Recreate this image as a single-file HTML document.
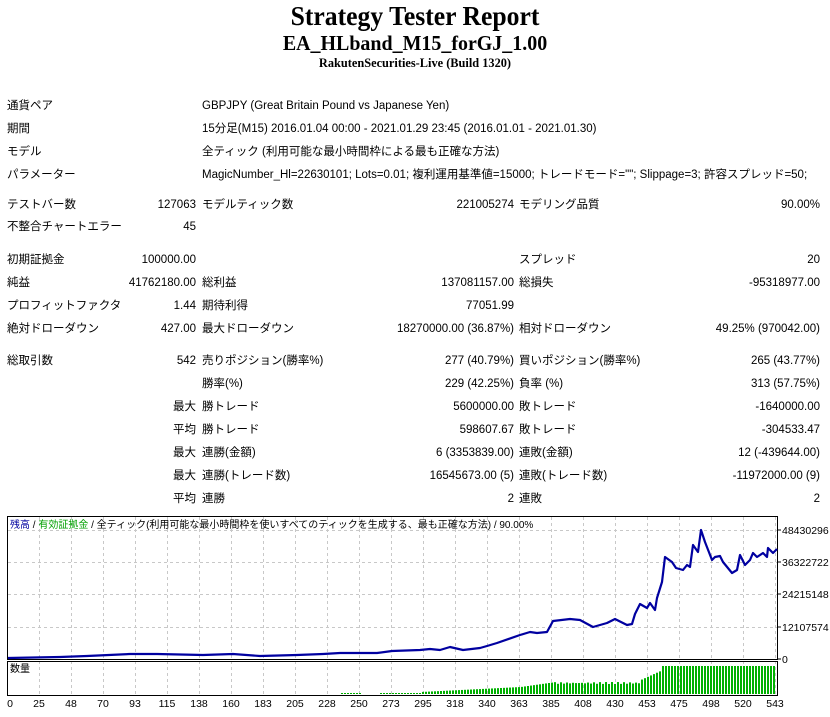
<!DOCTYPE html>
<html><head><meta charset="utf-8">
<style>
html,body{margin:0;padding:0;background:#fff;width:830px;height:717px;overflow:hidden;position:relative}
.t{position:absolute;font-family:"Liberation Serif",serif;font-weight:bold;left:0;width:830px;text-align:center;color:#000;transform:scaleX(0.95)}
.l,.r{position:absolute;font-family:"Liberation Sans","Noto Sans CJK JP",sans-serif;font-size:11.5px;line-height:14px;white-space:nowrap;color:#000}
.r{text-align:right}
</style></head><body>
<div class="t" style="top:1px;font-size:27px;line-height:30px">Strategy Tester Report</div>
<div class="t" style="top:31px;font-size:21px;line-height:24px">EA_HLband_M15_forGJ_1.00</div>
<div class="t" style="top:55px;font-size:13px;line-height:15px">RakutenSecurities-Live (Build 1320)</div>
<div id="tbl"></div>
<svg style="position:absolute;left:0;top:0" width="830" height="717" id="ch">
<g stroke="#c8c8c8" stroke-dasharray="3,3" stroke-width="1" id="grid"></g>
<rect x="7.5" y="516.5" width="770" height="143" fill="none" stroke="#000"/>
<rect x="7.5" y="661.5" width="770" height="34" fill="none" stroke="#000"/>
<g id="bars" fill="#00b000"></g>
<polyline fill="none" stroke="#0000a0" stroke-width="2.2" stroke-linejoin="round" points="8,658 60,657 87,656 130,654 157,654 203,655 233,654 260,656 297,655 323,654 340,653 377,653 392,651 420,650 430,649 440,650 450,647 463,650 480,648 487,646 497,643 520,635 530,632 537,633 547,632 553,621 570,619 580,620 593,627 607,623 615,619 627,625 632,624 635,614 640,604 647,608 650,603 655,610 657,598 662,582 665,557 672,562 676,568 683,570 687,565 690,567 693,545 698,552 701,530 705,542 712,560 715,557 720,556 723,562 732,573 737,570 740,555 745,565 750,560 753,553 757,557 763,553 767,557 768,548 773,553 777,549"/>
<g font-family="Liberation Sans,sans-serif" font-size="10.5" fill="#000" id="ax"></g>
<text x="10" y="528" font-family="Liberation Sans,'Noto Sans CJK JP',sans-serif" font-size="10"><tspan fill="#0000a0">残高</tspan> / <tspan fill="#00a000">有効証拠金</tspan> / 全ティック(利用可能な最小時間枠を使いすべてのティックを生成する、最も正確な方法) / 90.00%</text>
<text x="10" y="672" font-family="Liberation Sans,'Noto Sans CJK JP',sans-serif" font-size="10">数量</text>
</svg>
<script>
var rows=[
[106,[['l',7,'通貨ペア'],['l',202,'GBPJPY (Great Britain Pound vs Japanese Yen)']]],
[129,[['l',7,'期間'],['l',202,'15分足(M15) 2016.01.04 00:00 - 2021.01.29 23:45 (2016.01.01 - 2021.01.30)']]],
[152,[['l',7,'モデル'],['l',202,'全ティック (利用可能な最小時間枠による最も正確な方法)']]],
[175,[['l',7,'パラメーター'],['l',202,'MagicNumber_Hl=22630101; Lots=0.01; 複利運用基準値=15000; トレードモード=""; Slippage=3; 許容スプレッド=50;']]],
[205,[['l',7,'テストバー数'],['r',196,'127063'],['l',202,'モデルティック数'],['r',514,'221005274'],['l',519,'モデリング品質'],['r',820,'90.00%']]],
[227,[['l',7,'不整合チャートエラー'],['r',196,'45']]],
[260,[['l',7,'初期証拠金'],['r',196,'100000.00'],['l',519,'スプレッド'],['r',820,'20']]],
[283,[['l',7,'純益'],['r',196,'41762180.00'],['l',202,'総利益'],['r',514,'137081157.00'],['l',519,'総損失'],['r',820,'-95318977.00']]],
[306,[['l',7,'プロフィットファクタ'],['r',196,'1.44'],['l',202,'期待利得'],['r',514,'77051.99']]],
[329,[['l',7,'絶対ドローダウン'],['r',196,'427.00'],['l',202,'最大ドローダウン'],['r',514,'18270000.00 (36.87%)'],['l',519,'相対ドローダウン'],['r',820,'49.25% (970042.00)']]],
[361,[['l',7,'総取引数'],['r',196,'542'],['l',202,'売りポジション(勝率%)'],['r',514,'277 (40.79%)'],['l',519,'買いポジション(勝率%)'],['r',820,'265 (43.77%)']]],
[384,[['l',202,'勝率(%)'],['r',514,'229 (42.25%)'],['l',519,'負率 (%)'],['r',820,'313 (57.75%)']]],
[407,[['r',196,'最大'],['l',202,'勝トレード'],['r',514,'5600000.00'],['l',519,'敗トレード'],['r',820,'-1640000.00']]],
[430,[['r',196,'平均'],['l',202,'勝トレード'],['r',514,'598607.67'],['l',519,'敗トレード'],['r',820,'-304533.47']]],
[453,[['r',196,'最大'],['l',202,'連勝(金額)'],['r',514,'6 (3353839.00)'],['l',519,'連敗(金額)'],['r',820,'12 (-439644.00)']]],
[476,[['r',196,'最大'],['l',202,'連勝(トレード数)'],['r',514,'16545673.00 (5)'],['l',519,'連敗(トレード数)'],['r',820,'-11972000.00 (9)']]],
[499,[['r',196,'平均'],['l',202,'連勝'],['r',514,'2'],['l',519,'連敗'],['r',820,'2']]]];
var h='';
rows.forEach(function(r){r[1].forEach(function(c){
 if(c[0]=='l')h+='<div class="l" style="top:'+(r[0]-7)+'px;left:'+c[1]+'px">'+c[2]+'</div>';
 else h+='<div class="r" style="top:'+(r[0]-7)+'px;right:'+(830-c[1])+'px">'+c[2]+'</div>';});});
document.getElementById('tbl').innerHTML=h;
var g='',ax='';
var xl=['0','25','48','70','93','115','138','160','183','205','228','250','273','295','318','340','363','385','408','430','453','475','498','520','543'];
for(var k=0;k<24;k++){var x=39.5+32*k;g+='<line x1="'+x+'" y1="517" x2="'+x+'" y2="695"/>';}
[530,562,594,627].forEach(function(y){g+='<line x1="8" y1="'+(y+.5)+'" x2="777" y2="'+(y+.5)+'"/>';});
document.getElementById('grid').innerHTML=g;
xl.forEach(function(t,i){var x=i==0?10:39+32*(i-1);ax+='<text x="'+x+'" y="707" text-anchor="middle">'+t+'</text>';});
[['48430296',530],['36322722',562],['24215148',594],['12107574',627],['0',659]].forEach(function(a){ax+='<text x="782" y="'+(a[1]+4)+'">'+a[0]+'</text><line x1="778" y1="'+a[1]+'" x2="781" y2="'+a[1]+'" stroke="#000"/>';});
document.getElementById('ax').innerHTML=ax;
var b='';
for(var x=338;x<=775;x+=3){var hh;
 if(x<420)hh=(x>340&&x<360)||x>377?1:0;
 else if(x<520)hh=2+(x-420)/100*5;
 else if(x<555)hh=7+(x-520)/35*5;
 else if(x<640)hh=11+Math.sin(x)*1;
 else if(x<662)hh=14+(x-640)/22*10;
 else hh=28;
 if(hh>0)b+='<rect x="'+x+'" y="'+(694-hh)+'" width="2" height="'+hh+'"/>';}
document.getElementById('bars').innerHTML=b;
</script>
</body></html>
